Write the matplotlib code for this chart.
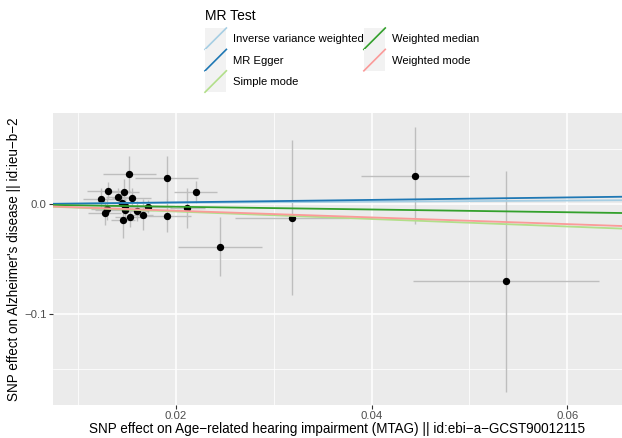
import numpy as np
import matplotlib
matplotlib.use("Agg")
import matplotlib.pyplot as plt
from matplotlib.legend_handler import HandlerBase
from matplotlib.patches import Rectangle
from matplotlib.lines import Line2D

plt.rcParams['font.family'] = ['Liberation Sans', 'DejaVu Sans']

# SNP effects (exposure = hearing impairment, outcome = Alzheimer's)
beta_x = [0.01522, 0.01905, 0.02205, 0.01309, 0.01468, 0.01233, 0.01410, 0.01547,
          0.01451, 0.01717, 0.02116, 0.01291, 0.01478, 0.01274, 0.01598, 0.01662,
          0.01905, 0.01533, 0.01458, 0.01478, 0.02450, 0.03187, 0.04445, 0.05376]
beta_y = [0.0270, 0.0234, 0.0109, 0.0121, 0.0109, 0.0045, 0.0064, 0.0055,
          0.0012, -0.0025, -0.0034, -0.0048, -0.0055, -0.0079, -0.0061, -0.0097,
          -0.0109, -0.0121, -0.0148, -0.0018, -0.0388, -0.0124, 0.0257, -0.0703]
se_x = [0.0027, 0.0032, 0.0022, 0.0022, 0.0015, 0.0018, 0.0012, 0.0020,
        0.0010, 0.0024, 0.0018, 0.0016, 0.0030, 0.0017, 0.0012, 0.0010,
        0.0025, 0.0016, 0.0012, 0.0022, 0.0043, 0.0058, 0.0055, 0.0095]
se_y = [0.017, 0.020, 0.010, 0.008, 0.012, 0.010, 0.008, 0.009,
        0.008, 0.006, 0.018, 0.010, 0.012, 0.011, 0.009, 0.014,
        0.015, 0.009, 0.016, 0.008, 0.027, 0.0705, 0.044, 0.1005]

# MR estimates: name, intercept, slope
methods = ["Inverse variance weighted", "MR Egger", "Simple mode",
           "Weighted median", "Weighted mode"]
intercepts = [0.0, -0.00076, 0.0, 0.0, 0.0]
slopes = [0.052, 0.112, -0.341, -0.125, -0.305]
colors = ["#A6CEE3", "#1F78B4", "#B2DF8A", "#33A02C", "#FB9A99"]

W, H = 622, 438
fig = plt.figure(figsize=(W / 100, H / 100), dpi=100)
ax = fig.add_axes([53 / W, 33 / H, 569 / W, 292 / H])
ax.set_facecolor("#EBEBEB")
for s in ax.spines.values():
    s.set_visible(False)

xlim = (0.00744, 0.0656)
ylim = (-0.1827, 0.0827)

ax.errorbar(beta_x, beta_y, xerr=se_x, yerr=se_y, fmt='none',
            ecolor="#BEBEBE", elinewidth=1.0, capsize=0, zorder=2)
ax.scatter(beta_x, beta_y, s=28, color="black", zorder=3, linewidths=0)

xx = np.array(xlim)
for name, a, b, c in zip(methods, intercepts, slopes, colors):
    ax.plot(xx, a + b * xx, color=c, lw=1.3, label=name, zorder=4)

ax.set_xlim(xlim)
ax.set_ylim(ylim)
ax.set_xticks([0.02, 0.04, 0.06])
ax.set_xticklabels(["0.02", "0.04", "0.06"])
ax.set_xticks([0.01, 0.03, 0.05], minor=True)
ax.set_yticks([-0.1, 0.0])
ax.set_yticklabels(["\u22120.1", "0.0"])
ax.set_yticks([-0.15, -0.05, 0.05], minor=True)
ax.grid(which='major', color='white', lw=1.1, zorder=0)
ax.grid(which='minor', color='white', lw=0.55, zorder=0)
ax.set_axisbelow(True)
ax.tick_params(which='major', length=3, width=0.8, color="#333333",
               labelcolor="#4D4D4D", labelsize=8.2, pad=1.5)
ax.tick_params(which='minor', length=0)

ax.set_xlabel("SNP effect on Age\u2212related hearing impairment (MTAG) || id:ebi\u2212a\u2212GCST90012115",
              fontsize=9.75, color="black", labelpad=0.5)
ax.set_ylabel("SNP effect on Alzheimer's disease || id:ieu\u2212b\u22122",
              fontsize=9.75, color="black", labelpad=2)


class AblineHandler(HandlerBase):
    def create_artists(self, legend, orig_handle, xdescent, ydescent,
                       width, height, fontsize, trans):
        x0, y0 = -xdescent, -ydescent
        bg = Rectangle((x0, y0), width, height, facecolor="#F2F2F2",
                       edgecolor="none", transform=trans)
        ln = Line2D([x0, x0 + width], [y0, y0 + height],
                    color=orig_handle.get_color(), lw=1.2, transform=trans)
        return [bg, ln]


fig.text(205 / W, 1 - 16 / H, "MR Test", fontsize=10, va='center', ha='left')

handles, labels = ax.get_legend_handles_labels()
leg = fig.legend(handles, labels, loc='upper left',
                 bbox_to_anchor=(205 / W, 1 - 28 / H), bbox_transform=fig.transFigure,
                 ncol=2, frameon=False,
                 fontsize=8.1, borderpad=0, borderaxespad=0,
                 handlelength=1.9, handleheight=2.55, labelspacing=0.0,
                 handletextpad=0.6, columnspacing=0.0,
                 handler_map={Line2D: AblineHandler()})

fig.savefig("out.png", dpi=100)
